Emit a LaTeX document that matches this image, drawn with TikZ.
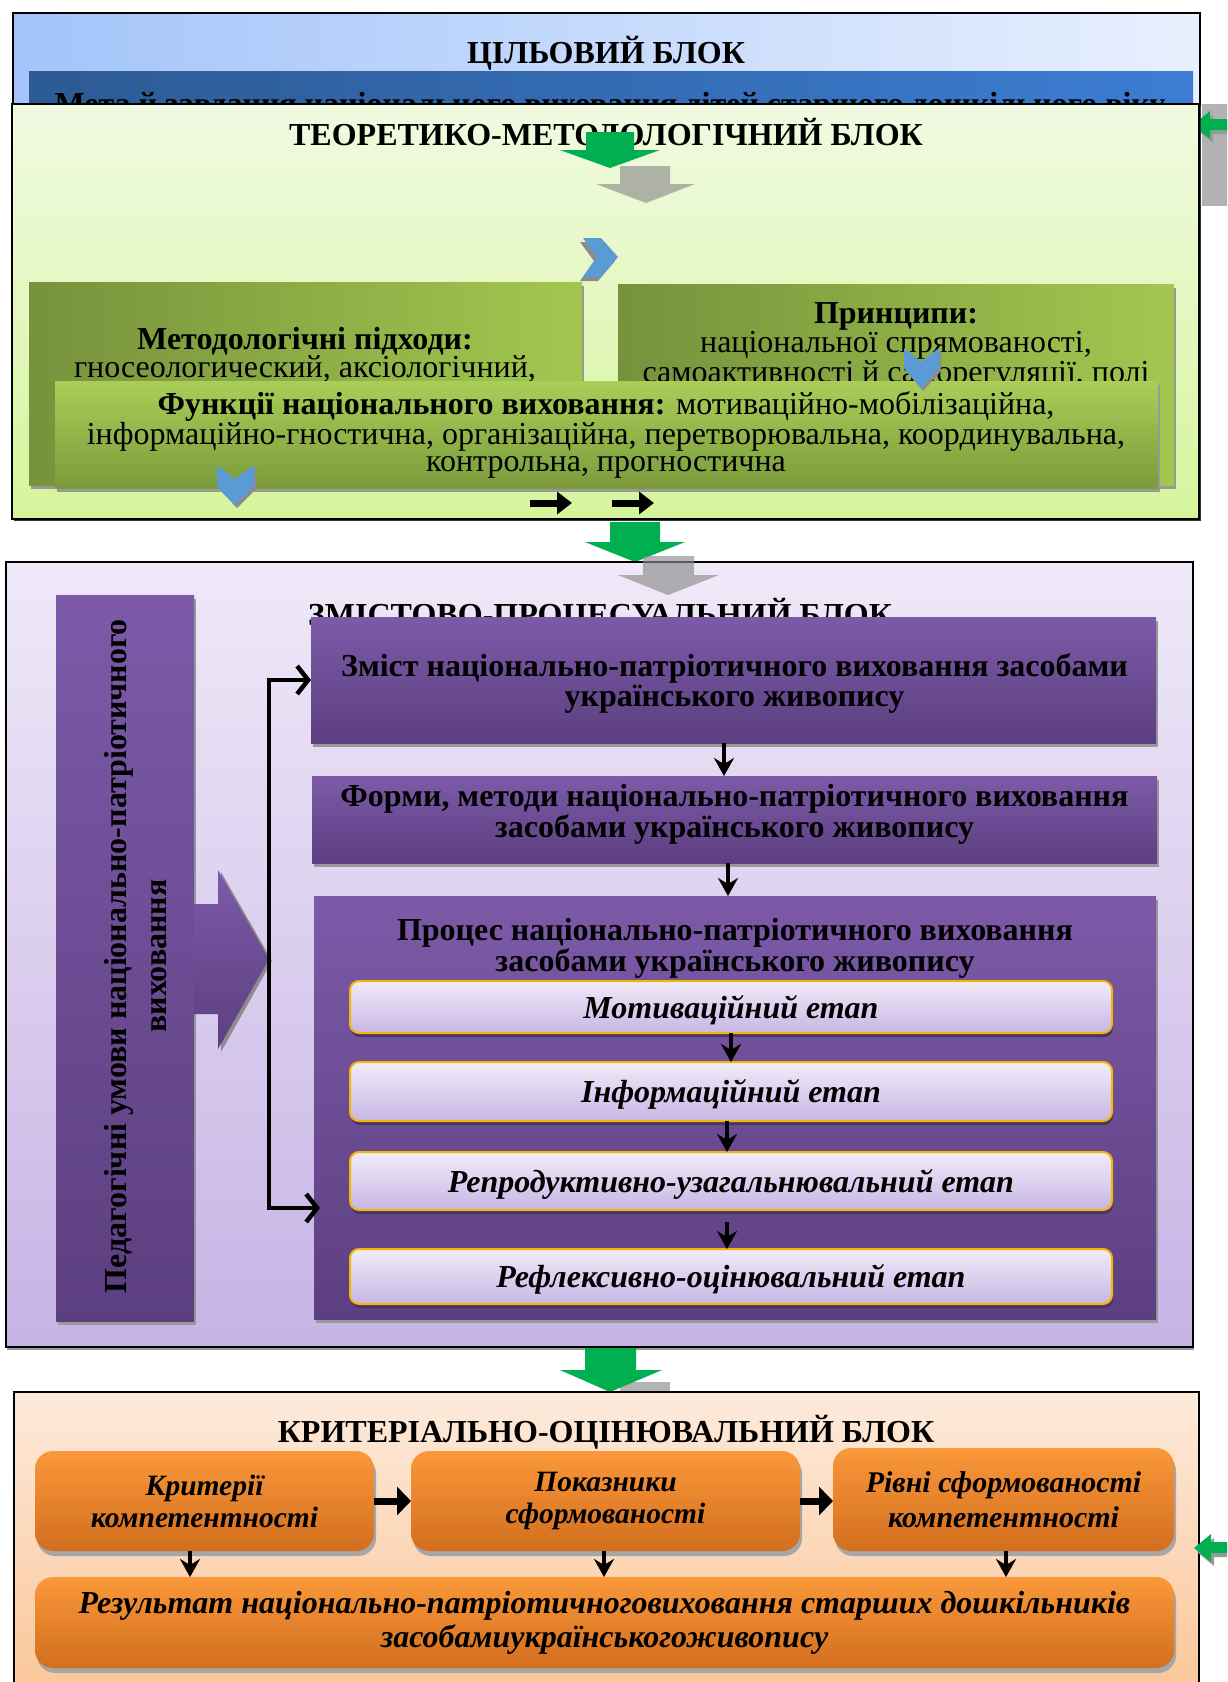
\documentclass[tikz,border=0pt]{standalone}
\usepackage{fontspec}
\setmainfont{Liberation Serif}
\usetikzlibrary{arrows.meta,shadows}
\newcommand{\myfs}[2]{\fontsize{#1pt}{#2pt}\selectfont}
\definecolor{goalL}{HTML}{A3C4FA}
\definecolor{goalR}{HTML}{E8F0FE}
\definecolor{barL}{HTML}{2C5A94}
\definecolor{barR}{HTML}{3C7DD3}
\definecolor{thT}{HTML}{F1FAE2}
\definecolor{thB}{HTML}{D5F59C}
\definecolor{mgL}{HTML}{76923C}
\definecolor{mgR}{HTML}{A2C74F}
\definecolor{fnT}{HTML}{A9CE58}
\definecolor{fnB}{HTML}{7B9B3B}
\definecolor{prT}{HTML}{EFE9F8}
\definecolor{prB}{HTML}{C6B3E5}
\definecolor{puT}{HTML}{7C5AA8}
\definecolor{puB}{HTML}{5C3F80}
\definecolor{stT}{HTML}{F1ECF9}
\definecolor{stB}{HTML}{C8B6E4}
\definecolor{stBorder}{HTML}{F2B705}
\definecolor{orBgT}{HTML}{FDEADB}
\definecolor{orBgB}{HTML}{FBC495}
\definecolor{orT}{HTML}{FA983A}
\definecolor{orB}{HTML}{D26E1E}
\definecolor{arGreen}{HTML}{00B050}
\definecolor{arBlue}{HTML}{5B9BD5}
\begin{document}
\begin{tikzpicture}[x=1pt,y=-1pt,
  box/.style={rectangle, anchor=north west, inner sep=0pt, outer sep=0pt},
  blockframe/.style={box, draw=black, line width=1.3pt},
  grshadow/.style={drop shadow={shadow xshift=2pt, shadow yshift=-4pt, fill=black!40, opacity=1}},
  dkshadow/.style={drop shadow={shadow xshift=2pt, shadow yshift=-2pt, fill=black!80, opacity=1}},
  mgbox/.style={box, left color=mgL, right color=mgR, grshadow},
  fnbox/.style={box, top color=fnT, bottom color=fnB, grshadow},
  pubox/.style={box, top color=puT, bottom color=puB, grshadow, align=center},
  stagebox/.style={box, rounded corners=9pt, draw=stBorder, line width=2pt, top color=stT, bottom color=stB,
     drop shadow={shadow xshift=1pt, shadow yshift=-4pt, fill=puB!80!black, opacity=1},
     font=\myfs{32}{32}\bfseries\itshape, text height=22pt, text depth=0pt},
  orbox/.style={box, rounded corners=18pt, top color=orT, bottom color=orB,
     drop shadow={shadow xshift=2pt, shadow yshift=-5pt, fill=black!35, opacity=1},
     align=center},
  blocktitle/.style={anchor=base, font=\myfs{32}{32}\bfseries},
  gtext/.style={align=center, inner sep=0pt},
  bigarrow/.style={fill=arGreen},
  grayarrow/.style={fill=black!45, opacity=0.65},
  bluechev/.style={fill=arBlue},
  chevshadow/.style={fill=black!45},
  dn/.style={line width=3.4pt, -{Stealth[length=18pt,width=20pt,inset=6pt]}},
  brk/.style={line width=4.5pt, {Straight Barb[length=11pt,width=28pt]}-{Straight Barb[length=11pt,width=28pt]}},
  rt/.style={line width=7pt, -{Triangle[length=14pt,width=28pt]}},
  smallrt/.style={line width=7pt, -{Triangle[length=15pt,width=22pt]}}
]
\useasboundingbox (0,0) rectangle (1227,1682);
\clip (0,0) rectangle (1227,1682);
\fill[white] (0,0) rectangle (1227,1682);

%%% ---------- Goal block ----------
\node[blockframe, left color=goalL, right color=goalR, minimum width=1187pt, minimum height=172pt] (goal) at (13,13) {};
\node[blocktitle] (goalttl) at (606,63) {ЦІЛЬОВИЙ БЛОК};
\node[box, left color=barL, right color=barR, minimum width=1164pt, minimum height=89pt] (goalbar) at (29,71) {};
\node[anchor=base, font=\myfs{32}{32}\bfseries] (goaltxt) at (610,114) {Мета й завдання національного виховання дітей старшого дошкільного віку};

% grey strip at the right edge and green arrow
\node[box, fill=black!30, minimum width=30pt, minimum height=102pt] (graystrip) at (1202,104) {};
\fill[black!40] (1196,129) -- (1213,115) -- (1213,123) -- (1233,123) -- (1233,134) -- (1213,134) -- (1213,143) -- cycle;
\fill[arGreen] (1193,125) -- (1210,111) -- (1210,119) -- (1230,119) -- (1230,130) -- (1210,130) -- (1210,139) -- cycle;

%%% ---------- Theoretical block ----------
\node[blockframe, top color=thT, bottom color=thB, minimum width=1187pt, minimum height=415pt, dkshadow] (theory) at (12,104) {};
\node[blocktitle] (thttl) at (606,145) {ТЕОРЕТИКО-МЕТОДОЛОГІЧНИЙ БЛОК};

\fill[grayarrow] (620,166) -- (670,166) -- (670,184) -- (695,184) -- (646,203) -- (596,184) -- (620,184) -- cycle;
\fill[bigarrow] (586,132) -- (634,132) -- (634,150) -- (660,150) -- (610,168) -- (560,150) -- (586,150) -- cycle;

\node[mgbox, minimum width=553pt, minimum height=203pt] (method) at (29,282) {};
\node[gtext, font=\myfs{32}{28}] (methodtxt) at (305,355) {{\bfseries Методологічні підходи:}\\гносеологический, аксіологічний,};
\node[mgbox, minimum width=556pt, minimum height=201pt] (princ) at (618,284) {};
\node[gtext, font=\myfs{32}{27.5}] (princtxt) at (896,346) {{\bfseries Принципи:}\\національної спрямованості,\\самоактивності й саморегуляції, полі};

\node[fnbox, minimum width=1103pt, minimum height=107pt] (func) at (55,381) {};
\node[gtext, font=\myfs{32}{27}] (functxt) at (606,435) {{\bfseries Функції національного виховання:} мотиваційно-мобілізаційна,\\інформаційно-гностична, організаційна, перетворювальна, координувальна,\\контрольна, прогностична};

% blue chevrons
\fill[chevshadow] (580,242) -- (598,242) -- (615,261) -- (598,281) -- (580,281) -- (594,261) -- cycle;
\fill[bluechev] (583,238) -- (601,238) -- (618,257) -- (601,277) -- (583,277) -- (597,257) -- cycle;
\fill[chevshadow] (906,351) -- (923,365) -- (941,351) -- (941,371) -- (923,391) -- (906,371) -- cycle;
\fill[bluechev] (904,348) -- (921,362) -- (939,348) -- (939,368) -- (921,388) -- (904,368) -- cycle;
\fill[chevshadow] (219,468) -- (237,482) -- (256,468) -- (256,489) -- (237,508) -- (219,489) -- cycle;
\fill[bluechev] (217,465) -- (235,479) -- (254,465) -- (254,486) -- (235,505) -- (217,486) -- cycle;

% small black arrows
\coordinate (sa1) at (530,503);
\coordinate (sa2) at (572,503);
\coordinate (sb1) at (612,503);
\coordinate (sb2) at (654,503);
\draw[smallrt] (sa1) -- (sa2);
\draw[smallrt] (sb1) -- (sb2);

%%% ---------- Content-procedural block ----------
\fill[bigarrow] (610,522) -- (660,522) -- (660,542) -- (685,542) -- (635,562) -- (585,542) -- (610,542) -- cycle;
\node[blockframe, top color=prT, bottom color=prB, minimum width=1187pt, minimum height=785pt,
      drop shadow={shadow xshift=1pt, shadow yshift=-3pt, fill=black!40, opacity=1}] (proc) at (6,562) {};
\fill[grayarrow] (643,556) -- (694,556) -- (694,575) -- (719,575) -- (668,595) -- (618,575) -- (643,575) -- cycle;
\node[blocktitle] (procttl) at (600,625) {ЗМІСТОВО-ПРОЦЕСУАЛЬНИЙ БЛОК};

% left rotated box and big arrow
\node[box, top color=puT, bottom color=puB, grshadow, minimum width=138pt, minimum height=726pt] (cond) at (56,595) {};
\node[rotate=90, align=center, font=\myfs{32}{40}\bfseries] (condtxt) at (136,956) {Педагогічні умови національно-патріотичного\\виховання};
\fill[black!45] (221,872) -- (272,961) -- (221,1052) -- cycle;
\path[top color=puT, bottom color=puB] (194,904) -- (218,904) -- (218,870) -- (269,959) -- (218,1049) -- (218,1014) -- (194,1014) -- cycle;

% content boxes
\node[pubox, minimum width=845pt, minimum height=126pt] (zmist) at (311,617) {};
\node[gtext, font=\myfs{32}{27}\bfseries] (zmisttxt) at (734.5,683.5) {Зміст національно-патріотичного виховання засобами\\українського живопису};
\node[pubox, minimum width=845pt, minimum height=87pt] (formy) at (312,776) {};
\node[gtext, font=\myfs{32}{27}\bfseries] (formytxt) at (734.5,814) {Форми, методи національно-патріотичного виховання\\засобами українського живопису};
\node[pubox, minimum width=842pt, minimum height=423pt] (proces) at (314,896) {};
\node[gtext, font=\myfs{32}{27}\bfseries] (procestxt) at (735,948) {Процес національно-патріотичного виховання\\засобами українського живопису};

\node[stagebox, minimum width=762pt, minimum height=52pt] (motiv) at (350,981) {Мотиваційний етап};
\node[stagebox, minimum width=762pt, minimum height=59pt] (inform) at (350,1062) {Інформаційний етап};
\node[stagebox, minimum width=762pt, minimum height=58pt] (reprod) at (350,1152) {Репродуктивно-узагальнювальний етап};
\node[stagebox, minimum width=762pt, minimum height=55pt] (reflex) at (350,1249) {Рефлексивно-оцінювальний етап};

\draw[dn] ([xshift=-9.5pt]zmist.south) -- ([xshift=-9.5pt]zmist.south |- formy.north);
\draw[dn] ([xshift=-6.5pt]formy.south) -- ([xshift=-6.5pt]formy.south |- proces.north);
\draw[dn] (motiv.south) -- (motiv.south |- inform.north);
\draw[dn] ([xshift=-4pt]inform.south) -- ([xshift=-4pt]inform.south |- reprod.north);
\draw[dn] ([xshift=-4pt,yshift=-12pt]reprod.south) -- ([xshift=-4pt]reprod.south |- reflex.north);

\coordinate (brtop) at (269,680);
\coordinate (brbot) at (269,1208);
\draw[brk] ([xshift=6pt]proces.west |- brbot) -- (brbot) -- (brtop) -- (zmist.west |- brtop);

%%% ---------- Criterial block ----------
\fill[grayarrow] (620,1382) -- (670,1382) -- (670,1410) -- (620,1410) -- cycle;
\fill[bigarrow] (585,1348) -- (636,1348) -- (636,1370) -- (662,1370) -- (610,1392) -- (560,1370) -- (585,1370) -- cycle;
\node[blockframe, top color=orBgT, bottom color=orBgB, minimum width=1185pt, minimum height=320pt] (crit) at (14,1392) {};
\node[blocktitle] (critttl) at (606,1442) {КРИТЕРІАЛЬНО-ОЦІНЮВАЛЬНИЙ БЛОК};

\node[orbox, minimum width=339pt, minimum height=100pt, font=\myfs{29.5}{32}\bfseries\itshape] (krit) at (35,1451) {Критерії\\компетентності};
\node[orbox, minimum width=389pt, minimum height=100pt, font=\myfs{29.5}{32}\bfseries\itshape] (pokaz) at (411,1451) {Показники\\сформованості};
\node[orbox, minimum width=341pt, minimum height=103pt, font=\myfs{30}{35}\bfseries\itshape] (rivni) at (833,1448) {Рівні сформованості\\компетентності};
\node[orbox, minimum width=1139pt, minimum height=91pt, font=\myfs{32}{34}\bfseries\itshape] (rezult) at (35,1577) {Результат національно-патріотичноговиховання старших дошкільників\\засобамиукраїнськогоживопису};

\draw[rt] (krit.east) -- (pokaz.west);
\draw[rt] (pokaz.east) -- (pokaz.east -| rivni.west);
\draw[dn] ([xshift=-14.5pt]krit.south) -- ([xshift=-14.5pt]krit.south |- rezult.north);
\draw[dn] ([xshift=-1.5pt]pokaz.south) -- ([xshift=-1.5pt]pokaz.south |- rezult.north);
\draw[dn] ([xshift=2.5pt]rivni.south) -- ([xshift=2.5pt]rivni.south |- rezult.north);

\fill[black!40] (1197,1552) -- (1214,1538) -- (1214,1546) -- (1233,1546) -- (1233,1557) -- (1214,1557) -- (1214,1566) -- cycle;
\fill[arGreen] (1194,1548) -- (1211,1534) -- (1211,1542) -- (1230,1542) -- (1230,1553) -- (1211,1553) -- (1211,1562) -- cycle;
\end{tikzpicture}
\end{document}
